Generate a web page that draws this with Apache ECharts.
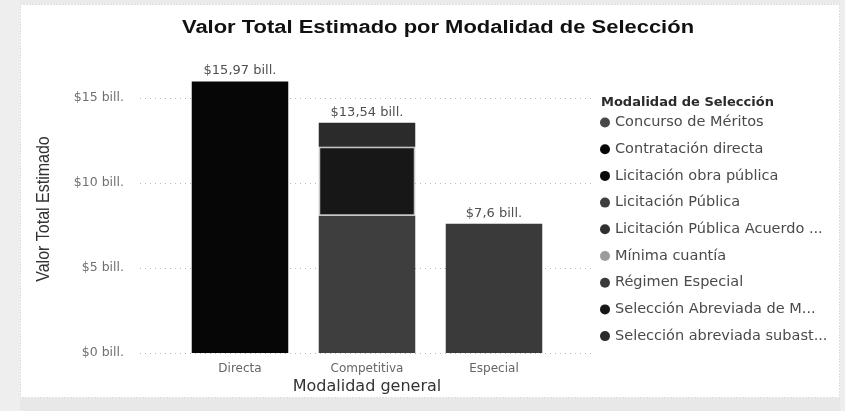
<!DOCTYPE html>
<html>
<head>
<meta charset="utf-8">
<script src="https://cdn.jsdelivr.net/npm/echarts@6/dist/echarts.min.js"></script>
<style>
  html, body { margin: 0; padding: 0; background: #ffffff; }
  #chart { width: 845px; height: 411px; }
</style>
</head>
<body>
<div id="chart"></div>
<script>
// Categories on the x axis
const categories = ['Directa', 'Competitiva', 'Especial'];

// Values per selection mode (billions), one entry per category
const concursoMeritos     = [null, null, null];
const contratacionDirecta = [15.97, null, null];
const licitacionObra      = [null, null, null];
const licitacionPublica   = [null, 8.07, null];
const licitacionAcuerdo   = [null, null, null];
const minimaCuantia       = [null, null, null];
const regimenEspecial     = [null, null, 7.6];
const seleccionMenor      = [null, 4.06, null];
const seleccionSubasta    = [null, 1.41, null];

const seriesNames = [
  'Concurso de Méritos',
  'Contratación directa',
  'Licitación obra pública',
  'Licitación Pública',
  'Licitación Pública Acuerdo ...',
  'Mínima cuantía',
  'Régimen Especial',
  'Selección Abreviada de M...',
  'Selección abreviada subast...'
];
const seriesValues = [
  concursoMeritos, contratacionDirecta, licitacionObra, licitacionPublica,
  licitacionAcuerdo, minimaCuantia, regimenEspecial, seleccionMenor, seleccionSubasta
];

// Y axis ticks (billions)
const yTicks = [0, 5, 10, 15];

const seriesColors = ['#474747', '#060606', '#0a0a0a', '#3e3e3e', '#303030',
                      '#9c9c9c', '#3a3a3a', '#171717', '#2b2b2b'];

// Stack totals per category
const totals = categories.map((_, i) =>
  seriesValues.reduce((s, arr) => s + (arr[i] == null ? 0 : arr[i]), 0));

function fmtBill(v) {
  return '$' + String(Number(v.toFixed(2))).replace('.', ',') + ' bill.';
}

const uiFont = "'DejaVu Sans', 'Noto Sans', sans-serif";

const chart = echarts.init(document.getElementById('chart'), null, { renderer: 'canvas' });

const series = seriesNames.map((name, k) => ({
  name: name,
  type: 'bar',
  stack: 'total',
  xAxisIndex: 0,
  yAxisIndex: 0,
  barWidth: '76%',
  data: seriesValues[k],
  itemStyle: k === 7
    ? { color: seriesColors[k], borderColor: '#c4c4c4', borderWidth: 1.5 }
    : { color: seriesColors[k] },
  emphasis: { disabled: true }
}));

// Zero-height bar on top of each stack carrying the total label
series.push({
  name: 'total',
  type: 'bar',
  stack: 'total',
  xAxisIndex: 0,
  yAxisIndex: 0,
  barWidth: '76%',
  data: categories.map(() => 0),
  itemStyle: { color: 'transparent' },
  label: {
    show: true,
    position: 'top',
    distance: 4,
    color: '#505050',
    fontFamily: uiFont,
    fontSize: 13,
    formatter: p => fmtBill(totals[p.dataIndex])
  },
  emphasis: { disabled: true }
});

const option = {
  backgroundColor: '#ffffff',
  animation: false,
  title: [{
    text: 'Modalidad de Selección',
    left: 601,
    top: 96,
    padding: 0,
    textStyle: { fontFamily: uiFont, fontWeight: 'bold', fontSize: 13, color: '#2a2a2a' }
  }],
  legend: {
    data: seriesNames.map(n => ({ name: n, itemStyle: { borderWidth: 0 } })),
    orient: 'vertical',
    left: 600,
    top: 115,
    padding: 0,
    itemGap: 11.7,
    itemWidth: 10,
    itemHeight: 10,
    icon: 'circle',
    selectedMode: false,
    textStyle: { fontFamily: uiFont, fontSize: 14.5, color: '#4a4a4a', lineHeight: 14 }
  },
  grid: [
    { left: 176.5, right: 287.5, top: 64, bottom: 58 },
    { left: 140, right: 251, top: 98, bottom: 58 }
  ],
  xAxis: [{
    type: 'category',
    gridIndex: 0,
    data: categories,
    axisLine: { show: false },
    axisTick: { show: false },
    axisLabel: { color: '#666', fontFamily: uiFont, fontSize: 12, margin: 10 }
  }, {
    type: 'value',
    gridIndex: 1,
    min: 0, max: 1,
    show: false
  }],
  yAxis: [{
    type: 'value',
    gridIndex: 0,
    min: 0, max: 17,
    show: false
  }, {
    type: 'value',
    gridIndex: 1,
    min: yTicks[0],
    max: yTicks[yTicks.length - 1],
    interval: yTicks[1] - yTicks[0],
    axisLine: { show: false },
    axisTick: { show: false },
    axisLabel: {
      color: '#707070', fontFamily: uiFont, fontSize: 12.5, margin: 16,
      formatter: v => '$' + v + ' bill.'
    },
    splitLine: { show: true, lineStyle: { color: '#b8b8b8', type: [1, 4], width: 1 } }
  }],
  graphic: [
    { type: 'rect', shape: { x: 0, y: 0, width: 845, height: 4 }, style: { fill: '#ebebeb' }, silent: true },
    { type: 'rect', shape: { x: 0, y: 398, width: 845, height: 13 }, style: { fill: '#e8e8e8' }, silent: true },
    { type: 'rect', shape: { x: 0, y: 0, width: 20, height: 411 }, style: { fill: '#eeeeee' }, silent: true },
    { type: 'rect', shape: { x: 840, y: 0, width: 5, height: 411 }, style: { fill: '#eeeeee' }, silent: true },
    { type: 'rect', shape: { x: 20.5, y: 4.5, width: 819, height: 393 },
      style: { fill: 'none', stroke: '#bdbdbd', lineWidth: 1, lineDash: [1, 2] }, silent: true },
    // Chart title
    { type: 'text', x: 438, y: 28, scaleX: 1.22,
      style: { text: 'Valor Total Estimado por Modalidad de Selección', fill: '#111',
               font: "bold 18px 'Liberation Sans', Arial, sans-serif",
               textAlign: 'center', textVerticalAlign: 'middle' } },
    // Y axis title
    { type: 'text', x: 44, y: 209, rotation: Math.PI / 2, scaleY: 1.2,
      style: { text: 'Valor Total Estimado', fill: '#333',
               font: "16px 'Liberation Sans', Arial, sans-serif",
               textAlign: 'center', textVerticalAlign: 'middle' } },
    // X axis title
    { type: 'text', x: 367, y: 387,
      style: { text: 'Modalidad general', fill: '#333', font: "16px 'DejaVu Sans', sans-serif",
               textAlign: 'center', textVerticalAlign: 'middle' } }
  ],
  series: series
};

chart.setOption(option);
</script>
</body>
</html>
